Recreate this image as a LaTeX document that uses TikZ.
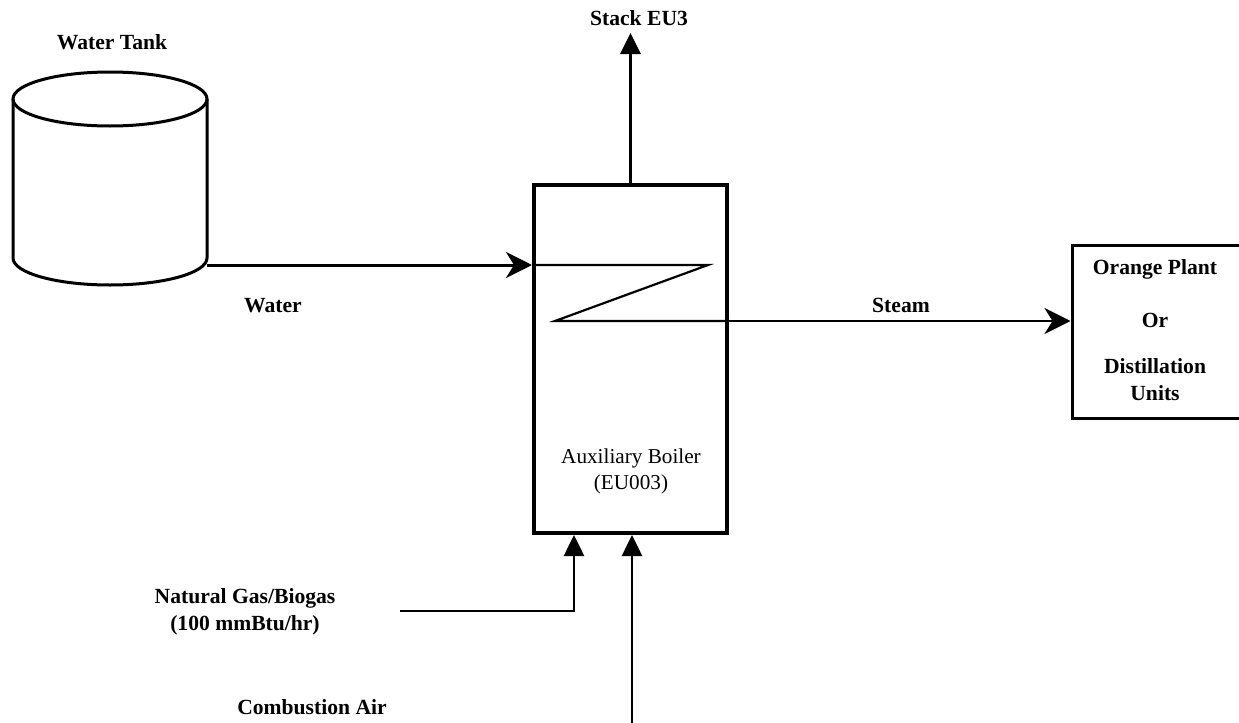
\documentclass[tikz,border=0pt]{standalone}
\usepackage{fontspec}
\setmainfont{Liberation Serif}
\usetikzlibrary{arrows.meta}
\tikzset{
  lbl/.style={font=\fontsize{10.8}{13}\selectfont\bfseries, inner sep=0pt},
  reglbl/.style={font=\fontsize{10.6}{13}\selectfont, inner sep=0pt, align=center},
  tankline/.style={line width=1.5pt},
  boxstyle/.style={draw, line width=2pt, rectangle, inner sep=0pt},
  plantbox/.style={draw, line width=1.5pt, rectangle, inner sep=0pt},
  flowline/.style={line width=1.3pt},
  coilline/.style={line width=1.1pt},
  triarrow/.style={-{Triangle[length=10.5pt,width=10pt]}},
  swept/.style={-{Stealth[length=13pt,width=13pt,inset=4pt]}}
}
\begin{document}
\begin{tikzpicture}[x=0.5pt,y=-0.5pt]
\useasboundingbox (0,0) rectangle (1239,723);
\clip (0,0) rectangle (1239,723);
\fill[white] (0,0) rectangle (1239,723);

% water tank (cylinder)
\draw[tankline] (110,99) ellipse[x radius=48.5pt, y radius=13.5pt];
\draw[tankline] (13,99) -- (13,258)
   arc[start angle=180, end angle=360, x radius=48.5pt, y radius=13.5pt]
   -- (207,99);
\node[lbl] (tanklabel) at (112,42) {Water Tank};
\coordinate (tankout) at (207,265);

% boiler
\node[boxstyle, minimum width=96.5pt, minimum height=174pt] (boiler) at (630.5,359) {};
\node[reglbl] (boilerlabel) at (631,471) {Auxiliary Boiler\\(EU003)};

% stack
\coordinate (stacktop) at (630.5,33);
\node[lbl] (stacklabel) at (639,18) {Stack EU3};
\draw[flowline, line width=1.5pt, triarrow] (boiler.north) -- (stacktop);

% water in
\coordinate (coilin) at (boiler.west |- tankout);
\draw[tankline, swept] (tankout) -- (coilin);
\node[lbl] (waterlabel) at (273,306) {Water};

% coil
\coordinate (coil1) at (708,265);
\coordinate (coil2) at (555,321);

% orange plant box
\node[plantbox, minimum width=94pt, minimum height=86.5pt] (plant) at (1166,331.5) {};
\node[lbl] (op1) at (1155,269) {Orange Plant};
\node[lbl] (op2) at (1155,320) {Or};
\node[lbl] (op3) at (1155,366) {Distillation};
\node[lbl] (op4) at (1155,393) {Units};

% coil and steam
\draw[coilline] (coilin) -- (coil1) -- (coil2) -- (boiler.east |- coil2);
\draw[flowline, swept] (boiler.east |- coil2) -- (plant.west |- coil2);
\node[lbl] (steamlabel) at (901,305) {Steam};

% natural gas
\coordinate (gasstart) at (400,611);
\coordinate (gascorner) at (574,611);
\draw[flowline, triarrow] (gasstart) -- (gascorner) -- (gascorner |- boiler.south);
\node[lbl] (gaslabel1) at (245,598) {Natural Gas/Biogas};
\node[lbl] (gaslabel2) at (245,625) {(100 mmBtu/hr)};

% combustion air
\coordinate (airstart) at (632,723);
\draw[flowline, triarrow] (airstart) -- (airstart |- boiler.south);
\node[lbl] (airlabel) at (312,707) {Combustion Air};
\end{tikzpicture}
\end{document}
